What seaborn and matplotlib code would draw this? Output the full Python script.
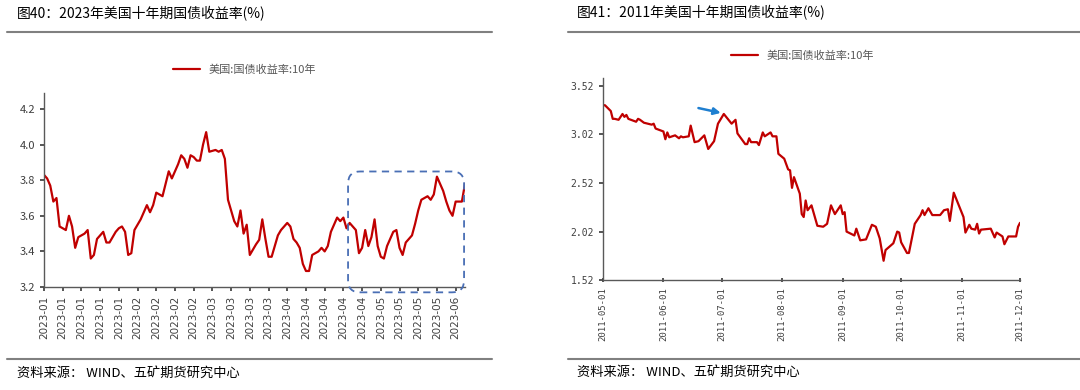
import numpy as np
import pandas as pd
import matplotlib
matplotlib.use("Agg")
import matplotlib.pyplot as plt
import matplotlib.dates as mdates
from matplotlib.patches import FancyBboxPatch
import seaborn as sns

# Data
yield_2023 = [
    3.83, 3.81, 3.77, 3.68, 3.70, 3.54, 3.53, 3.52, 3.60, 3.54,
    3.42, 3.48, 3.49, 3.50, 3.52, 3.36, 3.38, 3.47, 3.49, 3.51,
    3.45, 3.45, 3.48, 3.51, 3.53, 3.54, 3.51, 3.38, 3.39, 3.52,
    3.55, 3.58, 3.62, 3.66, 3.62, 3.66, 3.73, 3.72, 3.71, 3.78,
    3.85, 3.81, 3.85, 3.89, 3.94, 3.92, 3.87, 3.94, 3.93, 3.91,
    3.91, 4.00, 4.07, 3.96, 3.965, 3.97, 3.96, 3.97, 3.92, 3.69,
    3.63, 3.57, 3.54, 3.63, 3.50, 3.55, 3.38, 3.41, 3.44, 3.465,
    3.58, 3.47, 3.37, 3.37, 3.43, 3.49, 3.52, 3.54, 3.56, 3.54,
    3.47, 3.45, 3.42, 3.33, 3.29, 3.29, 3.38, 3.39, 3.40, 3.42,
    3.40, 3.43, 3.51, 3.55, 3.59, 3.57, 3.59, 3.53, 3.56, 3.54,
    3.52, 3.39, 3.42, 3.52, 3.43, 3.48, 3.58, 3.43, 3.37, 3.36,
    3.43, 3.47, 3.51, 3.52, 3.42, 3.38, 3.45, 3.47, 3.49, 3.555,
    3.63, 3.69, 3.70, 3.71, 3.69, 3.72, 3.82, 3.78, 3.74, 3.68,
    3.63, 3.60, 3.68, 3.68, 3.68, 3.78,
]
ticks_2023 = (["2023-01"] * 5 + ["2023-02"] * 4 + ["2023-03"] * 4
              + ["2023-04"] * 5 + ["2023-05"] * 4 + ["2023-06"])

dates_2011 = [
    "05-01", "05-02", "05-05", "05-06", "05-07", "05-09", "05-11", "05-12", "05-13", "05-14",
    "05-18", "05-19", "05-20", "05-22", "05-26", "05-27", "05-28", "06-01", "06-02", "06-03",
    "06-04", "06-07", "06-09", "06-10", "06-11", "06-14", "06-15", "06-17", "06-19", "06-22",
    "06-24", "06-27", "06-29", "07-02", "07-06", "07-08", "07-09", "07-13", "07-14", "07-15",
    "07-16", "07-19", "07-20", "07-22", "07-23", "07-26", "07-27", "07-29", "07-30", "08-02",
    "08-04", "08-05", "08-06", "08-07", "08-10", "08-11", "08-12", "08-13", "08-14", "08-16",
    "08-19", "08-22", "08-24", "08-26", "08-28", "08-31", "09-01", "09-02", "09-03", "09-07",
    "09-08", "09-10", "09-13", "09-16", "09-18", "09-20", "09-22", "09-23", "09-27", "09-29",
    "09-30", "10-01", "10-04", "10-05", "10-08", "10-11", "10-12", "10-13", "10-15", "10-17",
    "10-21", "10-23", "10-25", "10-26", "10-28", "11-02", "11-03", "11-05", "11-06", "11-08",
    "11-09", "11-10", "11-11", "11-16", "11-18", "11-19", "11-22", "11-23", "11-25", "11-29",
    "11-30", "12-01",
]
yield_2011 = [
    3.32, 3.32, 3.26, 3.18, 3.18, 3.17, 3.23, 3.20, 3.22, 3.18,
    3.15, 3.18, 3.17, 3.14, 3.12, 3.13, 3.08, 3.05, 2.97, 3.04,
    2.99, 3.01, 2.98, 3.00, 2.99, 3.00, 3.11, 2.94, 2.95, 3.01,
    2.87, 2.95, 3.13, 3.23, 3.13, 3.17, 3.03, 2.92, 2.92, 2.98,
    2.94, 2.94, 2.91, 3.04, 3.00, 3.04, 3.00, 3.00, 2.82, 2.77,
    2.66, 2.65, 2.47, 2.58, 2.41, 2.20, 2.17, 2.34, 2.24, 2.29,
    2.08, 2.07, 2.10, 2.29, 2.20, 2.29, 2.20, 2.22, 2.02, 1.98,
    2.05, 1.93, 1.94, 2.09, 2.07, 1.95, 1.72, 1.83, 1.90, 2.02,
    2.01, 1.91, 1.80, 1.80, 2.10, 2.19, 2.24, 2.19, 2.26, 2.19,
    2.19, 2.24, 2.25, 2.13, 2.42, 2.17, 2.01, 2.09, 2.05, 2.04,
    2.10, 2.00, 2.04, 2.05, 1.96, 2.01, 1.97, 1.89, 1.97, 1.97,
    2.07, 2.11,
]

series_name = "美国:国债收益率:10年"
red = "#C00000"
grey_txt = "#404040"

sns.set_theme(style="white")
plt.rcParams["font.family"] = ["Noto Sans CJK SC", "DejaVu Sans"]

fig = plt.figure(figsize=(10.8, 3.9), dpi=100)
W, H = 1080, 390


def fx(px):
    return px / W


def fy(py):
    return 1 - py / H


# --- left panel: 2023 ---
df23 = pd.DataFrame({"idx": np.arange(len(yield_2023)), "val": yield_2023})
ax1 = fig.add_axes([fx(44), fy(287), fx(465 - 44), (287 - 93) / H])
sns.lineplot(data=df23, x="idx", y="val", ax=ax1, color=red, lw=1.6, label=series_name)
ax1.set_xlim(0, len(yield_2023) - 1)
ax1.set_ylim(3.2, 4.29)
ax1.set_yticks(np.arange(3.2, 4.21, 0.2))
ax1.set_yticklabels([f"{v:.1f}" for v in np.arange(3.2, 4.21, 0.2)])
ax1.set_xticks(np.arange(0, 6 * len(ticks_2023), 6))
ax1.set_xticklabels(ticks_2023, rotation=90, family="DejaVu Sans")
ax1.tick_params(axis="y", labelsize=8, colors=grey_txt, length=3, direction="out", left=True)
ax1.tick_params(axis="x", labelsize=7.5, colors=grey_txt, length=3, direction="out", bottom=True)
ax1.set_xlabel("")
ax1.set_ylabel("")
for s in ["top", "right"]:
    ax1.spines[s].set_visible(False)
for s in ["left", "bottom"]:
    ax1.spines[s].set_color("#595959")
    ax1.spines[s].set_linewidth(1.0)
ax1.legend(loc="center", bbox_to_anchor=(fx(245), fy(70)), bbox_transform=fig.transFigure,
           frameon=False, fontsize=8, handlelength=2.4, labelcolor="#595959")

# dashed highlight box (pixel-sized rounding)
x_per_px = (len(yield_2023) - 1) / (465 - 44)
y_per_px = (4.29 - 3.2) / (287 - 93)
box = FancyBboxPatch((97.5, 3.17), 134.7 - 97.5, 3.849 - 3.17,
                     boxstyle=f"round,pad=0,rounding_size={12 * x_per_px}",
                     mutation_aspect=y_per_px / x_per_px,
                     transform=ax1.transData, fill=False, ec="#4A6FB5",
                     lw=1.3, ls=(0, (4, 3)), clip_on=False, zorder=5)
ax1.add_patch(box)

# --- right panel: 2011 ---
df11 = pd.DataFrame({"date": pd.to_datetime(["2011-" + d for d in dates_2011]), "val": yield_2011})
ax2 = fig.add_axes([fx(603), fy(280.2), fx(1020 - 603), (280.2 - 78) / H])
sns.lineplot(data=df11, x="date", y="val", ax=ax2, color=red, lw=1.6, label=series_name)
ax2.set_xlim(pd.Timestamp("2011-05-01"), pd.Timestamp("2011-12-01"))
ax2.set_ylim(1.52, 3.60)
ax2.set_yticks([1.52, 2.02, 2.52, 3.02, 3.52])
ax2.set_yticklabels(["1.52", "2.02", "2.52", "3.02", "3.52"], family="DejaVu Sans Mono")
ax2.xaxis.set_major_locator(mdates.MonthLocator())
ax2.xaxis.set_major_formatter(mdates.DateFormatter("%Y-%m-%d"))
for lab in ax2.get_xticklabels():
    lab.set_family("DejaVu Sans Mono")
ax2.tick_params(axis="x", labelrotation=90, labelsize=6.5, colors=grey_txt, length=3,
                direction="inout", bottom=True)
ax2.tick_params(axis="y", labelsize=7, colors=grey_txt, length=3, direction="out", left=True)
ax2.set_xlabel("")
ax2.set_ylabel("")
for s in ["top", "right"]:
    ax2.spines[s].set_visible(False)
for s in ["left", "bottom"]:
    ax2.spines[s].set_color("#595959")
    ax2.spines[s].set_linewidth(1.0)
ax2.legend(loc="center", bbox_to_anchor=(fx(803), fy(56)), bbox_transform=fig.transFigure,
           frameon=False, fontsize=8, handlelength=2.4, labelcolor="#595959")
ax2.annotate("", xy=(pd.Timestamp("2011-07-01 20:00"), 3.235),
             xytext=(pd.Timestamp("2011-06-17 14:00"), 3.297),
             arrowprops=dict(arrowstyle="-|>", color="#1F7FD0", lw=1.8, mutation_scale=10))

# --- titles, rules and source notes ---
fig.text(fx(17), fy(14), "图40：2023年美国十年期国债收益率(%)", fontsize=10, va="center",
         color="black", fontweight="medium")
fig.text(fx(577), fy(13), "图41：2011年美国十年期国债收益率(%)", fontsize=10, va="center",
         color="black", fontweight="medium")
for x0, x1 in [(7, 492), (568, 1080)]:
    fig.add_artist(plt.Line2D([fx(x0), fx(x1)], [fy(32), fy(32)], color="#808080", lw=1.5))
    fig.add_artist(plt.Line2D([fx(x0), fx(x1)], [fy(359), fy(359)], color="#808080", lw=1.5))
fig.text(fx(17), fy(373), "资料来源： WIND、五矿期货研究中心", fontsize=9.5, va="center", color="black")
fig.text(fx(577), fy(372), "资料来源： WIND、五矿期货研究中心", fontsize=9.5, va="center", color="black")

fig.savefig("out.png", dpi=100)
